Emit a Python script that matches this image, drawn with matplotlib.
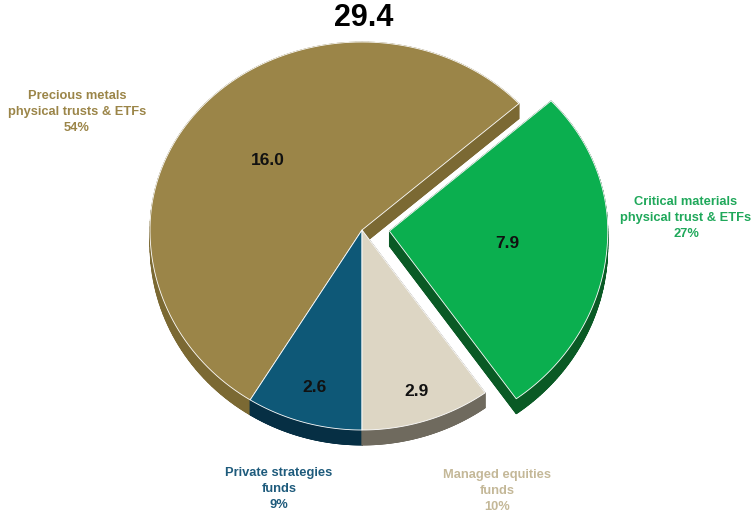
import numpy as np
import matplotlib.pyplot as plt
from matplotlib.patches import Polygon

plt.rcParams['font.family'] = ['Liberation Sans', 'DejaVu Sans']

# data (clockwise from the exploded slice)
names = ['Critical materials\nphysical trust & ETFs', 'Managed equities\nfunds',
         'Private strategies\nfunds', 'Precious metals\nphysical trusts & ETFs']
values = [7.9, 2.9, 2.6, 16.0]
value_labels = ['7.9', '2.9', '2.6', '16.0']
total_label = '29.4'

top_colors = ['#0BAF4F', '#DDD6C4', '#0E5877', '#9B8548']
side_colors = ['#0A5A25', '#6F6A5E', '#062F44', '#7B6933']
text_colors = ['#1FA85A', '#C4B898', '#1E5B7C', '#9B8548']
explode = [0.13, 0, 0, 0]
scale = [1.03, 1, 1, 1]
label_r = [0.56, 0.85, 0.82, 0.58]
name_pos = [(686, 218), (497, 491), (279, 489), (77, 112)]

cx, cy, rx, ry_up, ry_down, depth = 362, 230, 212, 188, 200, 15

fig = plt.figure(figsize=(7.55, 5.24), dpi=100)
ax = fig.add_axes([0, 0, 1, 1])
ax.set_xlim(0, 755)
ax.set_ylim(524, 0)
ax.axis('off')

vals = np.array(values)
fracs = vals / vals.sum()
spans = fracs * 360
start = 180 - spans[0] - spans[1]
edges = start + np.concatenate([[0], np.cumsum(spans)])


def pt(x0, y0, th, r=1.0):
    t = np.radians(th)
    c = np.cos(t)
    ry = np.where(c > 0, ry_up, ry_down)
    return x0 + r * rx * np.sin(t), y0 - r * ry * c


def wedge_poly(i):
    a0, a1 = edges[i], edges[i + 1]
    mid = np.radians((a0 + a1) / 2)
    ox = cx + explode[i] * rx * np.sin(mid)
    oy = cy - explode[i] * ry_down * np.cos(mid) * 0.4
    th = np.linspace(a0, a1, 120)
    xs, ys = pt(ox, oy, th, scale[i])
    P = np.column_stack([np.r_[ox, xs], np.r_[oy, ys]])
    return P, ox, oy


def draw_side(P, color):
    d = np.array([0, depth])
    n = len(P)
    for k in range(n):
        a, b = P[k], P[(k + 1) % n]
        ax.add_patch(Polygon([a, b, b + d, a + d], closed=True, fc=color, ec=color, lw=0.6))
    ax.add_patch(Polygon(P + d, closed=True, fc=color, ec=color, lw=0.6))


polys = [wedge_poly(i) for i in range(len(values))]

order_back = [3, 2, 1]
for i in order_back:
    draw_side(polys[i][0], side_colors[i])
for i in order_back:
    ax.add_patch(Polygon(polys[i][0], closed=True, fc=top_colors[i], ec='white', lw=0.6))
draw_side(polys[0][0], side_colors[0])
ax.add_patch(Polygon(polys[0][0], closed=True, fc=top_colors[0], ec='white', lw=0.6))

for i in range(len(values)):
    _, ox, oy = polys[i]
    mid = (edges[i] + edges[i + 1]) / 2
    x, y = pt(ox, oy, mid, label_r[i])
    ax.text(x, y, value_labels[i], ha='center', va='center', fontsize=12.5,
            fontweight='bold', color='#111111')
    pct = f'{fracs[i] * 100:.0f}%'
    nx, ny = name_pos[i]
    ax.text(nx, ny, names[i] + '\n' + pct, ha='center', va='center', fontsize=9.3,
            fontweight='bold', color=text_colors[i], linespacing=1.45)

ax.text(364, 18, total_label, ha='center', va='center', fontsize=22,
        fontweight='bold', color='#000000')

fig.savefig('out.png', dpi=100)
